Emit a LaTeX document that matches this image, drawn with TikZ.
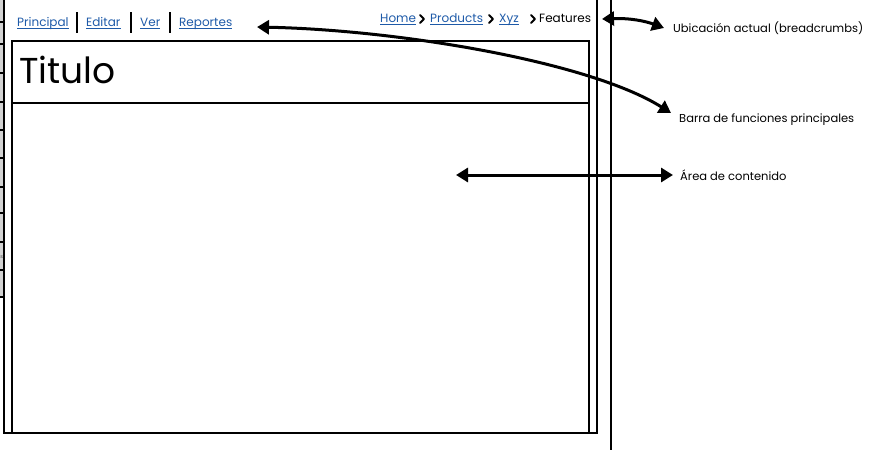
\documentclass[tikz,border=0pt]{standalone}
\usepackage{fontspec}
\setmainfont{Poppins}
\usetikzlibrary{arrows.meta}
\definecolor{linkblue}{HTML}{1E5AA8}
\definecolor{stripgrey}{HTML}{D2D2D2}
\tikzset{
  frameline/.style={line width=2.5pt},
  boxline/.style={line width=2pt},
  navtxt/.style={anchor=base west, inner sep=0pt, font=\fontsize{12}{14}\selectfont},
  linktxt/.style={navtxt, text=linkblue},
  uline/.style={draw=linkblue, line width=1pt},
  sepbar/.style={line width=2pt},
  labeltxt/.style={anchor=base west, inner sep=0pt, font=\fontsize{11.5}{14}\selectfont},
  callout/.style={line width=3pt, {Triangle[length=12pt,width=14pt]}-{Triangle[length=12pt,width=14pt]}},
  tick/.style={line width=1.5pt}
}
\begin{document}
\begin{tikzpicture}[x=1pt,y=-1pt]
\useasboundingbox (0,0) rectangle (875,450);
% left cut-off strip
\fill[stripgrey] (0,0) rectangle (4,298);
\foreach \yy in {22,44,73,102,130,158,187,213,242,270,297} {
  \draw[tick] (0,\yy) -- (5,\yy);
}
\node[anchor=base west, inner sep=0pt, font=\fontsize{5}{6}\selectfont, text=black!70] (sfrag) at (0.3,258) {s};
% outer frame (open at top)
\draw[frameline] (4,0) coordinate (oTL) -- (4,433) coordinate (oBL) -- (597,433) coordinate (oBR) -- (597,0) coordinate (oTR);
% inner content box
\draw[boxline] (12,41) rectangle (589,433);
\coordinate (sepL) at (12,103);
\coordinate (sepR) at (589,103);
\draw[boxline] (sepL) -- (sepR);
% far vertical line
\coordinate (vT) at (611,0);
\coordinate (vB) at (611,450);
\draw[frameline] (vT) -- (vB);
% title
\node[anchor=base west, inner sep=0pt, font=\fontsize{36}{42}\selectfont] (titulo) at (19,83) {Titulo};
% nav links
\node[linktxt] (principal) at (17,26) {Principal};
\node[linktxt] (editar) at (86,26) {Editar};
\node[linktxt] (ver) at (140,26) {Ver};
\node[linktxt] (reportes) at (179,26) {Reportes};
\foreach \n in {principal,editar,ver,reportes} {
  \draw[uline] ([yshift=-2.5pt]\n.base west) -- ([yshift=-2.5pt]\n.base east);
}
\draw[sepbar] (77,12) -- (77,33);
\draw[sepbar] (131,12) -- (131,33);
\draw[sepbar] (170,12) -- (170,33);
% breadcrumbs
\node[linktxt] (home) at (380,22) {Home};
\node[linktxt] (products) at (430,22) {Products};
\node[linktxt] (xyz) at (499,22) {Xyz};
\node[navtxt] (features) at (539,22) {Features};
\foreach \n in {home,products,xyz} {
  \draw[uline] ([yshift=-2.5pt]\n.base west) -- ([yshift=-2.5pt]\n.base east);
}
\foreach \cx in {420,489,531} {
  \draw[line width=2pt, line cap=round, line join=round] (\cx,15) -- (\cx+4,19) -- (\cx,23);
}
% labels
\node[labeltxt] (lbreadcrumb) at (673,32) {Ubicación actual (breadcrumbs)};
\node[labeltxt] (lbarra) at (679,122) {Barra de funciones principales};
\node[labeltxt] (larea) at (680,180) {Área de contenido};
% callout arrows
\coordinate (a1s) at (602,19);
\coordinate (a1e) at (664,28);
\draw[callout] (a1s) .. controls (630,18) and (645,21) .. (a1e);
\coordinate (a2s) at (257,27);
\coordinate (a2e) at (671,113);
\draw[callout] (a2s) .. controls (400,30) and (590,62) .. (a2e);
\coordinate (a3s) at (456,175);
\coordinate (a3e) at (673,175);
\draw[callout] (a3s) -- (a3e);
\end{tikzpicture}
\end{document}
